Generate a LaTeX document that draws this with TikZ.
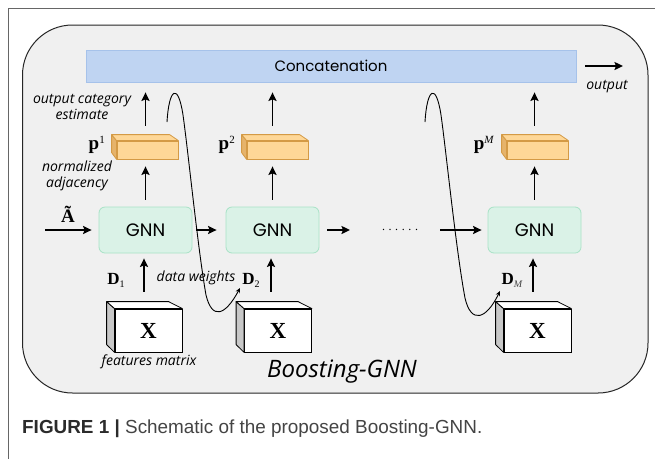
\documentclass[tikz,border=0pt]{standalone}
\usepackage{fontspec}
\setmainfont{Liberation Serif}
\newfontfamily\hand{Open Sans}
\newfontfamily\gothic{Poppins}
\newfontfamily\capfont{Liberation Sans}
\usetikzlibrary{arrows.meta}
\definecolor{bgfill}{HTML}{F0F0F0}
\definecolor{catfill}{HTML}{BFD4F2}
\definecolor{catline}{HTML}{A6C2EA}
\definecolor{gnnfill}{HTML}{DAF2E7}
\definecolor{gnnline}{HTML}{A8E2C6}
\definecolor{pfront}{HTML}{FED797}
\definecolor{pside}{HTML}{E6B36A}
\definecolor{pline}{HTML}{D49A45}
\definecolor{xside}{HTML}{C8C8C8}
\definecolor{framegray}{HTML}{666666}
\definecolor{capdark}{HTML}{2B2B2B}
\definecolor{capgray}{HTML}{444444}
\tikzset{
  concatbox/.style={draw=catline, fill=catfill, line width=0.8pt, minimum width=490pt, minimum height=32pt, inner sep=0pt, font=\gothic\fontsize{15}{15}\selectfont},
  gnnbox/.style={draw=gnnline, fill=gnnfill, line width=0.8pt, rounded corners=6pt, minimum width=93pt, minimum height=46pt, inner sep=0pt, font=\gothic\fontsize{18}{18}\selectfont},
  pfrontbox/.style={draw=pline, fill=pfront, line width=0.8pt, minimum width=61pt, minimum height=18pt, inner sep=0pt},
  pface/.style={draw=pline, fill=pside, line width=0.8pt, line join=round},
  pface2/.style={draw=pline, fill=pfront, line width=0.8pt, line join=round},
  xfrontbox/.style={draw=black, fill=white, line width=0.8pt, minimum width=67pt, minimum height=43pt, inner sep=0pt, font=\bfseries\fontsize{23}{23}\selectfont},
  xface/.style={draw=black, fill=xside, line width=0.8pt, line join=round},
  xface2/.style={draw=black, fill=white, line width=0.8pt, line join=round},
  arr/.style={line width=1.8pt, -{Stealth[length=8.5pt,width=8pt,inset=1.5pt]}},
  curvearr/.style={line width=0.9pt, -{Stealth[length=5pt,width=4.5pt]}},
  handlbl/.style={font=\hand\itshape\fontsize{14}{16}\selectfont, align=center, inner sep=0pt},
  mathlbl/.style={inner sep=0pt},
}
\begin{document}
\begin{tikzpicture}[x=1pt,y=-1pt]
\useasboundingbox (0,0) rectangle (655,459);
% outer frame
\draw[framegray, line width=1pt] (655,8.5) -- (8.5,8.5) -- (8.5,459);
% main rounded panel
\draw[fill=bgfill, draw=black!85, line width=1pt, rounded corners=50pt] (22.5,25) rectangle (648,393);

% concatenation bar
\node[concatbox] (cat) at (331,66) {Concatenation};

% GNN boxes
\node[gnnbox] (g1) at (145.5,230) {GNN};
\node[gnnbox] (g2) at (272.5,230) {GNN};
\node[gnnbox] (gM) at (534.5,230) {GNN};

% p boxes (3D)
\foreach \n/\cx in {p1/147.5, p2/277.5, pM/537.5}{
  \node[pfrontbox] (\n) at (\cx,150) {};
  \draw[pface] (\n.north west) -- ++(-5,-6) -- ++(0,18) -- (\n.south west) -- cycle;
  \draw[pface2] (\n.north west) -- ++(-5,-6) -- ++(58,0) -- (\n.north east) -- cycle;
}

% X boxes (3D)
\foreach \n/\cx in {x1/148.5, x2/278, xM/537.5}{
  \node[xfrontbox] (\n) at (\cx,330.5) {X};
  \draw[xface] (\n.north west) -- ++(-8,-7) -- ++(0,43) -- (\n.south west) -- cycle;
  \draw[xface2] (\n.north west) -- ++(-8,-7) -- ++(62,0) -- (\n.north east) -- cycle;
}

% vertical arrows
\foreach \g/\p/\x in {g1/p1/x1, g2/p2/x2, gM/pM/xM}{
  \draw[arr, shorten <=15pt, shorten >=10pt] (\g |- \p.north) -- (\g |- cat.south);
  \draw[arr, shorten <=7pt, shorten >=7pt] (\g.north) -- (\g |- \p.south);
  \draw[arr, shorten <=17pt, shorten >=5pt] ([xshift=-1.5pt]\g |- \x.north) -- ([xshift=-1.5pt]\g.south);
}

% horizontal arrows
\coordinate (ain) at (45,230);
\coordinate (g2out) at (350,230);
\coordinate (gMin) at (440,230);
\coordinate (outend) at (623,66);
\draw[arr, shorten >=7pt] (ain) -- (g1.west);
\draw[arr, shorten <=4pt, shorten >=9pt] (g1.east) -- (g2.west);
\draw[arr, shorten <=8pt] (g2.east) -- (g2out);
\node[inner sep=0pt, font=\fontsize{12}{12}\selectfont] (dots) at (400,230) {.\kern3.6pt.\kern3.6pt.\kern3.6pt.\kern3.6pt.\kern3.6pt.};
\draw[arr, shorten >=6pt] (gMin) -- (gM.west);
\draw[arr, shorten <=9pt] (cat.east) -- (outend);

% curved arrows (data weights)
\coordinate (c1s) at (167,122);
\coordinate (c1e) at (240,288);
\draw[curvearr] (c1s) .. controls (169,88) and (178,82) .. (183,115)
  .. controls (188,150) and (198,250) .. (206,295)
  .. controls (212,320) and (225,316) .. (c1e);
\coordinate (c2s) at (425,122);
\coordinate (c2e) at (500,291);
\draw[curvearr] (c2s) .. controls (427,88) and (436,82) .. (441,115)
  .. controls (446,150) and (456,250) .. (465,298)
  .. controls (471,324) and (486,320) .. (c2e);

% labels
\node[handlbl] (lblout) at (82,107) {output category\\estimate};
\node[handlbl] (lblnorm) at (77,176) {normalized\\adjacency};
\node[handlbl] (lbldw) at (196,278) {data weights};
\node[handlbl] (lblfeat) at (149,362) {features matrix};
\node[handlbl] (lbloutput) at (607,87) {output};
\node[handlbl, font=\hand\itshape\fontsize{24}{24}\selectfont] (lblboost) at (342,372) {Boosting-GNN};

\node[mathlbl, font=\bfseries\fontsize{19}{19}\selectfont] (Alab) at (68,214) {Ã};
\node[mathlbl, font=\fontsize{19}{19}\selectfont] (p1l) at (97,145) {\textbf{p}\textsuperscript{\fontsize{11}{11}\selectfont 1}};
\node[mathlbl, font=\fontsize{19}{19}\selectfont] (p2l) at (227,145) {\textbf{p}\textsuperscript{\fontsize{11}{11}\selectfont 2}};
\node[mathlbl, font=\fontsize{19}{19}\selectfont] (pMl) at (484,145) {\textbf{p}\textsuperscript{\fontsize{11}{11}\selectfont\itshape M}};
\node[mathlbl, font=\fontsize{17}{17}\selectfont] (d1l) at (116,280) {\textbf{D}\raisebox{-3pt}{\fontsize{10}{10}\selectfont 1}};
\node[mathlbl, font=\fontsize{17}{17}\selectfont] (d2l) at (251,280) {\textbf{D}\raisebox{-3pt}{\fontsize{10}{10}\selectfont 2}};
\node[mathlbl, font=\fontsize{17}{17}\selectfont] (dMl) at (512,280) {\textbf{D}\raisebox{-3pt}{\fontsize{10}{10}\selectfont\itshape\color{capgray} M}};

% caption
\node[anchor=base west, inner sep=0pt, font=\capfont\fontsize{18.9}{18.9}\selectfont] (caption) at (22,433)
  {\textcolor{capdark}{\bfseries FIGURE 1 |} \textcolor{capgray}{Schematic of the proposed Boosting-GNN.}};
\end{tikzpicture}
\end{document}
